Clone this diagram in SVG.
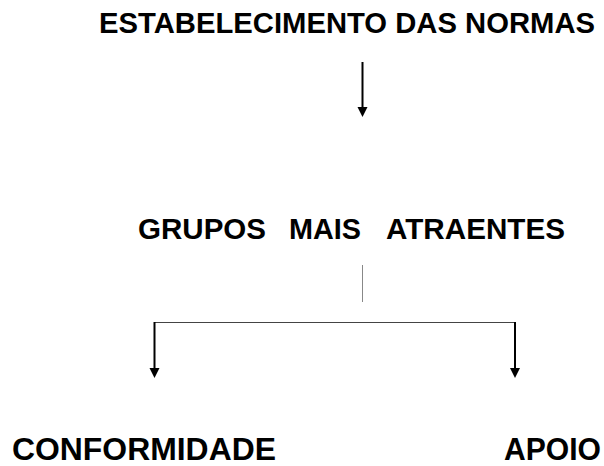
<svg xmlns="http://www.w3.org/2000/svg" width="604" height="466" viewBox="0 0 604 466">
<style>
text{font-family:"Liberation Sans",Arial,sans-serif;font-weight:bold;fill:#000}
.t{font-size:29px}
.b{font-size:31px}
.arr{stroke:#000;stroke-width:2;fill:none}
.head{fill:#000}
</style>
<rect width="604" height="466" fill="#fff"/>
<g id="n1"><text class="t" x="99" y="33" textLength="496" lengthAdjust="spacingAndGlyphs">ESTABELECIMENTO DAS NORMAS</text></g>
<g id="n2"><text class="t" y="239"><tspan x="138" textLength="128" lengthAdjust="spacingAndGlyphs">GRUPOS</tspan><tspan x="289" textLength="72" lengthAdjust="spacingAndGlyphs">MAIS</tspan><tspan x="386" textLength="179" lengthAdjust="spacingAndGlyphs">ATRAENTES</tspan></text></g>
<g id="n3"><text class="b" x="12" y="460" textLength="264" lengthAdjust="spacingAndGlyphs">CONFORMIDADE</text></g>
<g id="n4"><text class="b" x="504" y="460" textLength="97" lengthAdjust="spacingAndGlyphs">APOIO</text></g>
<g id="connectors">
<line x1="362.5" y1="62" x2="362.5" y2="108" class="arr"/>
<path class="head" d="M357.5,107 L367.5,107 L362.5,117 Z"/>
<line x1="362.5" y1="265" x2="362.5" y2="302" stroke="#888" stroke-width="1"/>
<line x1="154" y1="322.5" x2="516" y2="322.5" stroke="#444" stroke-width="1"/>
<line x1="154.5" y1="322" x2="154.5" y2="369" class="arr"/>
<path class="head" d="M149.5,368 L159.5,368 L154.5,378 Z"/>
<line x1="515" y1="322" x2="515" y2="369" class="arr"/>
<path class="head" d="M510,368 L520,368 L515,378 Z"/>
</g>
</svg>
